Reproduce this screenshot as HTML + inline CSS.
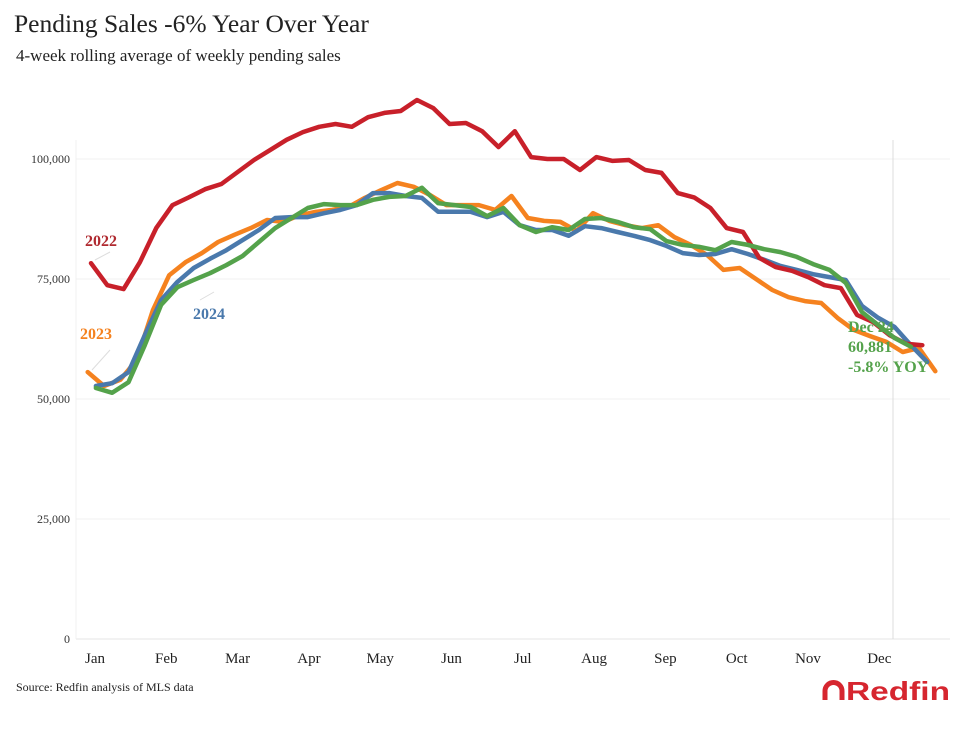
<!DOCTYPE html>
<html><head><meta charset="utf-8"><style>
body{margin:0;background:#fff;width:975px;height:737px;overflow:hidden;font-family:"Liberation Serif",serif}
</style></head><body>
<svg id="chart" width="975" height="737" xmlns="http://www.w3.org/2000/svg">
<text x="14" y="32" font-size="25.5" fill="#222">Pending Sales -6% Year Over Year</text>
<text x="16" y="61" font-size="17" fill="#222">4-week rolling average of weekly pending sales</text>
<g id="grid"></g><g id="lines"></g>
<text x="16" y="691" font-size="12" fill="#222">Source: Redfin analysis of MLS data</text>
<g>
<path d="M825 700 v-9 a8.5 8.5 0 0 1 17 0 v9" fill="none" stroke="#d6262f" stroke-width="5"/>
<text x="846" y="700" font-family="Liberation Sans,sans-serif" font-weight="bold" font-size="26" textLength="104" lengthAdjust="spacingAndGlyphs" fill="#d6262f">Redfin</text>
</g>
</svg>
<script>
const yTicks=[0,25000,50000,75000,100000];
const yTickLabels=["0","25,000","50,000","75,000","100,000"];
const months=["Jan","Feb","Mar","Apr","May","Jun","Jul","Aug","Sep","Oct","Nov","Dec"];
const s2022=[78.3,73.7,72.9,78.5,85.6,90.4,92,93.7,94.8,97.3,99.8,101.9,104,105.6,106.7,107.3,106.7,108.7,109.6,110,112.3,110.6,107.3,107.5,105.8,102.5,105.8,100.4,100,100,97.7,100.4,99.6,99.8,97.7,97.1,92.9,92,89.8,85.6,84.8,79.4,77.5,76.7,75.4,73.7,73.1,67.5,66,63.3,61.5,61.2];
const s2023=[55.6,52.7,54,58.1,68.5,75.8,78.5,80.4,82.7,84.2,85.6,87.3,86.9,88.3,89,89.4,90,91.9,93.5,95,94.2,92.5,90.4,90.4,90.4,89.4,92.3,87.7,87.1,86.9,85,88.7,87.1,86.2,85.6,86.2,83.7,82.1,80,76.9,77.3,75,72.7,71.2,70.4,70,66.9,64.4,63.1,61.9,59.8,60.6,55.8];
const s2024=[52.7,53.3,55.6,63.3,70.6,74.4,77.3,79.2,81,83.1,85.2,87.7,87.9,87.9,88.7,89.4,90.4,92.9,92.9,92.3,91.9,89,89,89,87.9,89,86.2,85.2,85.2,84,86,85.6,84.8,84,83.1,81.9,80.4,80,80.2,81.2,80.2,79,77.7,76.9,76,75.4,74.8,69.4,66.9,65,61.2,57.7];
const s2025=[52.3,51.3,53.5,61.2,69.6,73.3,74.8,76.2,77.9,79.8,82.7,85.6,87.7,89.8,90.6,90.4,90.4,91.5,92.1,92.3,94,90.8,90.4,90,88.1,89.8,86.2,84.8,85.8,85.2,87.5,87.7,86.9,85.8,85.4,82.9,82.1,81.7,81,82.7,82.1,81.2,80.6,79.6,78.1,76.9,74.2,68.1,65.4,62.7,60.9];
const series=[
 {name:"series-2023",data:s2023,start:-0.2,color:"#f5821f"},
 {name:"series-2024",data:s2024,start:0.3,color:"#4a79ac"},
 {name:"series-2022",data:s2022,start:0,color:"#c8202a"},
 {name:"series-2025",data:s2025,start:0.3,color:"#54a24b"}];
const y=v=>639-v/25000*120;
const x=w=>91+16.3*w;
const NS="http://www.w3.org/2000/svg";
const grid=document.getElementById('grid'),lines=document.getElementById('lines');
function mk(tag,attrs,parent){const e=document.createElementNS(NS,tag);for(const k in attrs)e.setAttribute(k,attrs[k]);parent.appendChild(e);return e;}
yTicks.forEach((t,i)=>{
 const l=mk('line',{x1:76,x2:950,y1:y(t),y2:y(t),stroke:i==0?'#e4e4e4':'#f0f0f0','stroke-width':1},grid);
 
 
 const tx=mk('text',{x:70,y:y(t)+4,'text-anchor':'end','font-size':12,fill:'#333'},grid);
 tx.textContent=yTickLabels[i];
 
 
});
const ax=mk('line',{x1:76,x2:76,y1:140,y2:639,stroke:'#f0f0f0'},grid);


const vl=mk('line',{x1:893,x2:893,y1:140,y2:639,stroke:'#ddd'},grid);


months.forEach((m,i)=>{
 const tx=mk('text',{x:95+71.3*i,y:663,'text-anchor':'middle','font-size':15,fill:'#222'},grid);
 tx.textContent=m;
 
 
});
[[95,260,110,252],[92,370,110,350],[200,300,214,292]].forEach(c=>{
 const l=mk('line',{x1:c[0],y1:c[1],x2:c[2],y2:c[3],stroke:'#ddd','stroke-width':1},grid);
 
 
});
series.forEach(s=>{
 const pts=s.data.map((v,i)=>x(s.start+i).toFixed(1)+','+y(v*1000).toFixed(1)).join(' ');
 const p=mk('polyline',{points:pts,fill:'none',stroke:s.color,'stroke-width':4.5,'stroke-linejoin':'round','stroke-linecap':'round'},lines);
 
 
});
const labels=[["2022",85,246,"#b02a30"],["2023",80,339,"#f5821f"],["2024",193,319,"#4a79ac"]];
labels.forEach(l=>{
 const t=mk('text',{x:l[1],y:l[2],'font-size':16,'font-weight':'bold',fill:l[3]},lines);
 t.textContent=l[0];
 
 
});
["Dec 24","60,881","-5.8% YOY"].forEach((s,i)=>{
 const t=mk('text',{x:848,y:332+i*20,'font-size':16,'font-weight':'bold',fill:'#54a24b'},lines);
 t.textContent=s;
 
 
});
</script>
</body></html>
